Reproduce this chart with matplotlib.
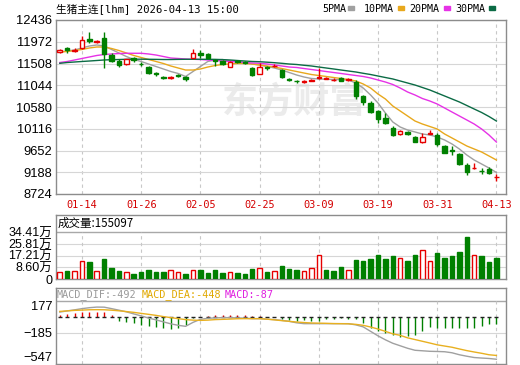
"""
生猪主连 日K + 成交量 + MACD 复刻图
输出: out.png
"""

import matplotlib
matplotlib.use("Agg")
import matplotlib.pyplot as plt
from matplotlib.patches import Rectangle

plt.rcParams["font.family"] = ["Liberation Sans", "Noto Sans CJK SC"]
MONO = ["DejaVu Sans Mono", "Noto Sans CJK SC"]

# ---- data ----
tick_idx = [3, 11, 19, 27, 35, 43, 51, 59]
tick_labels = ["01-14", "01-26", "02-05", "02-25", "03-09", "03-19", "03-31", "04-13"]

open_ = [11760, 11840, 11775, 11832, 12025, 11965, 12045, 11683, 11568, 11491,
         11625, 11505, 11427, 11300, 11215, 11195, 11260, 11226, 11632, 11740,
         11705, 11580, 11561, 11440, 11555, 11535, 11419, 11284, 11425, 11445,
         11369, 11170, 11140, 11110, 11140, 11200, 11185, 11150, 11199, 11160,
         11120, 10820, 10676, 10495, 10340, 10126, 10004, 10055, 9947, 9840,
         10010, 9983, 9748, 9670, 9577, 9343, 9270, 9225, 9250, 9080]
close = [11790, 11790, 11805, 12009, 11980, 11995, 11711, 11568, 11476, 11598,
         11576, 11490, 11299, 11285, 11200, 11210, 11245, 11177, 11726, 11684,
         11632, 11560, 11491, 11547, 11540, 11520, 11269, 11440, 11410, 11465,
         11227, 11155, 11125, 11125, 11155, 11215, 11200, 11165, 11145, 11175,
         10820, 10687, 10480, 10324, 10233, 9983, 10060, 10004, 9840, 9947,
         10025, 9785, 9605, 9650, 9364, 9200, 9285, 9210, 9165, 9095]
high = [11815, 11870, 11835, 12095, 12185, 12020, 12175, 11725, 11605, 11610,
        11655, 11530, 11455, 11335, 11245, 11240, 11290, 11250, 11817, 11796,
        11732, 11600, 11590, 11560, 11580, 11560, 11440, 11512, 11450, 11490,
        11390, 11190, 11165, 11150, 11180, 11412, 11230, 11190, 11215, 11200,
        11156, 10840, 10700, 10510, 10452, 10175, 10085, 10075, 9965, 10032,
        10090, 10025, 9770, 9750, 9600, 9385, 9375, 9280, 9300, 9150]
low = [11740, 11740, 11755, 11815, 11940, 11945, 11420, 11540, 11440, 11480,
       11540, 11465, 11285, 11250, 11170, 11180, 11220, 11135, 11620, 11625,
       11620, 11445, 11470, 11430, 11520, 11500, 11250, 11275, 11380, 11430,
       11199, 11130, 11100, 11090, 11125, 11185, 11170, 11130, 11130, 11145,
       10750, 10620, 10460, 10245, 10215, 9960, 9990, 9990, 9825, 9820,
       9995, 9748, 9590, 9556, 9345, 9130, 9260, 9150, 9150, 9000]

ma5 = [11753, 11775, 11796, 11839, 11881, 11903, 11881, 11807, 11732, 11657,
       11593, 11551, 11497, 11444, 11391, 11337, 11295, 11231, 11337, 11444,
       11551, 11583, 11593, 11561, 11551, 11529, 11497, 11476, 11444, 11412,
       11369, 11316, 11263, 11220, 11188, 11178, 11171, 11167, 11162, 11156,
       11092, 10985, 10836, 10665, 10452, 10260, 10153, 10089, 10047, 10004,
       9983, 9940, 9876, 9791, 9684, 9556, 9449, 9364, 9279, 9183]
ma10 = [11753, 11764, 11785, 11807, 11839, 11860, 11860, 11828, 11785, 11732,
        11679, 11636, 11593, 11551, 11508, 11455, 11412, 11369, 11369, 11391,
        11433, 11465, 11487, 11497, 11508, 11508, 11497, 11476, 11455, 11433,
        11401, 11369, 11337, 11305, 11273, 11252, 11231, 11209, 11188, 11167,
        11135, 11071, 10985, 10857, 10751, 10601, 10495, 10388, 10281, 10217,
        10164, 10111, 10004, 9919, 9834, 9748, 9684, 9620, 9535, 9449]
ma20 = [11529, 11551, 11583, 11615, 11647, 11679, 11700, 11711, 11721, 11726,
        11726, 11726, 11711, 11689, 11657, 11625, 11615, 11604, 11598, 11593,
        11583, 11572, 11561, 11551, 11540, 11529, 11519, 11512, 11497, 11476,
        11455, 11433, 11423, 11401, 11380, 11359, 11337, 11316, 11295, 11273,
        11252, 11231, 11199, 11156, 11113, 11060, 10985, 10900, 10836, 10761,
        10708, 10644, 10559, 10473, 10388, 10303, 10217, 10111, 9983, 9833]
ma30 = [11512, 11529, 11540, 11551, 11561, 11572, 11583, 11589, 11593, 11598,
        11600, 11600, 11598, 11596, 11593, 11593, 11596, 11598, 11598, 11598,
        11598, 11596, 11591, 11583, 11572, 11561, 11551, 11546, 11536, 11525,
        11512, 11497, 11487, 11470, 11455, 11433, 11412, 11391, 11369, 11348,
        11327, 11299, 11273, 11241, 11209, 11178, 11135, 11092, 11049, 10996,
        10943, 10879, 10815, 10751, 10687, 10612, 10537, 10463, 10377, 10281]

volume = [54000, 59000, 59000, 132000, 125000, 59000, 147000, 81000, 59000, 51000,
          39000, 51000, 66000, 51000, 51000, 64000, 51000, 39000, 64000, 69000,
          47000, 66000, 47000, 51000, 47000, 39000, 74000, 83000, 54000, 61000,
          96000, 76000, 66000, 59000, 78000, 174000, 66000, 61000, 88000, 66000,
          140000, 132000, 147000, 176000, 147000, 169000, 152000, 132000, 176000, 213000,
          132000, 193000, 157000, 169000, 201000, 311000, 176000, 169000, 127000, 155097]
vol_up = [1, 0, 1, 1, 0, 1, 0, 0, 0, 1,
          0, 0, 0, 0, 0, 1, 1, 0, 1, 0,
          0, 0, 0, 1, 0, 0, 0, 1, 0, 1,
          0, 0, 0, 1, 1, 1, 0, 0, 0, 1,
          0, 0, 0, 0, 0, 0, 1, 0, 0, 1,
          1, 0, 0, 0, 0, 0, 1, 0, 0, 0]

dif = [54, 68, 80, 94, 105, 112, 111, 94, 76, 57,
       33, 10, -15, -36, -59, -82, -99, -111, -65, -30,
       -18, -13, -10, -10, -13, -16, -22, -22, -28, -33,
       -42, -53, -70, -80, -80, -80, -80, -80, -80, -80,
       -94, -117, -169, -221, -267, -307, -336, -365, -388, -394,
       -400, -402, -405, -417, -440, -457, -472, -478, -483, -492]
dea = [62, 68, 74, 77, 81, 82, 81, 76, 69, 60,
       51, 39, 28, 16, 2, -10, -22, -33, -39, -42,
       -39, -33, -30, -27, -23, -22, -22, -22, -28, -36,
       -45, -53, -61, -67, -72, -74, -76, -79, -80, -82,
       -88, -99, -119, -142, -169, -198, -215, -244, -264, -284,
       -304, -325, -339, -353, -373, -392, -408, -423, -440, -448]
macd = [20, 35, 45, 55, 60, 60, 50, 25, -50, -58,
        -69, -96, -108, -123, -135, -146, -135, -96, -15, 0,
        10, 20, 25, 25, 20, 15, 10, 5, -5, -5,
        -25, -40, -50, -40, -45, -45, -25, -25, -20, -25,
        -30, -75, -125, -160, -185, -215, -230, -222, -212, -165,
        -115, -127, -127, -135, -127, -135, -127, -108, -88, -87]

price_ticks = [8724, 9188, 9652, 10116, 10580, 11044, 11508, 11972, 12436]
vol_ticks = [0, 86025, 172050, 258075, 344100]
vol_tick_labels = ["0", "8.60万", "17.21万", "25.81万", "34.41万"]
macd_ticks = [177, -185, -547]

UP = "#e60000"
DOWN = "#008000"
C5, C10, C20, C30 = "#a0a0a0", "#e8a81c", "#e632e6", "#0b6b45"
GRID = "#d6d6d6"
FRAME = "#8c8c8c"

W, H = 520, 365


def box(l, t, r, b):
    return [l / W, 1 - b / H, (r - l) / W, (b - t) / H]


fig = plt.figure(figsize=(W / 100, H / 100), dpi=100)
ax = fig.add_axes(box(55.5, 20, 505.5, 194))
axv = fig.add_axes(box(55.5, 215, 505.5, 279))
axm = fig.add_axes(box(55.5, 288, 505.5, 364))

n = len(close)
xs = list(range(n))
xlim = (-0.58, 60.23)
bw = 0.62

for a in (ax, axv, axm):
    a.set_xlim(*xlim)
    for s in a.spines.values():
        s.set_color(FRAME)
        s.set_linewidth(1)
    a.tick_params(length=0)

# ---- price panel ----
ax.set_ylim(price_ticks[0], price_ticks[-1])
ax.set_yticks(price_ticks)
ax.tick_params(axis="y", labelsize=9.3, pad=2.5)
ax.set_xticks(tick_idx)
ax.set_xticklabels(tick_labels, color="#d40000", fontsize=7.4, family=MONO)
ax.tick_params(axis="x", pad=4.5)
ax.yaxis.grid(True, color=GRID, lw=0.8)
ax.xaxis.grid(True, color="#c8c8c8", lw=0.8, ls=(0, (3, 3)))
ax.set_axisbelow(True)

ax.text(0.53, 0.53, "东方财富", transform=ax.transAxes, fontsize=26,
        fontweight="bold", family=["Noto Sans CJK SC"], color="#ebebeb",
        ha="center", va="center", zorder=0)

for i in xs:
    o, c, h, l = open_[i], close[i], high[i], low[i]
    up = c >= o
    col = UP if up else DOWN
    top, bot = max(o, c), min(o, c)
    ax.vlines(i, top, h, color=col, lw=1, zorder=3)
    ax.vlines(i, l, bot, color=col, lw=1, zorder=3)
    ax.add_patch(Rectangle((i - bw / 2, bot), bw, max(top - bot, 4),
                           facecolor="white" if up else col, edgecolor=col,
                           lw=1, zorder=4))

ax.plot(xs, ma5, color=C5, lw=1, zorder=2)
ax.plot(xs, ma10, color=C10, lw=1, zorder=2)
ax.plot(xs, ma20, color=C20, lw=1, zorder=2)
ax.plot(xs, ma30, color=C30, lw=1, zorder=2)

fig.text(56 / W, 1 - 8.5 / H, "生猪主连[lhm] 2026-04-13 15:00", fontsize=7.7,
         family=MONO, va="center", ha="left")
legend_items = [("5PMA", C5, 322, 348), ("10PMA", C10, 364, 398),
                ("20PMA", C20, 409, 444), ("30PMA", C30, 455, 489)]
for name, col, tx, sx in legend_items:
    fig.text(tx / W, 1 - 8.5 / H, name, fontsize=7.2, family=MONO,
             va="center", ha="left")
    fig.add_artist(Rectangle((sx / W, 1 - 10 / H), 6 / W, 3.5 / H,
                             transform=fig.transFigure, color=col))

# ---- volume panel ----
axv.set_ylim(0, 471600)
axv.set_yticks(vol_ticks)
axv.set_yticklabels(vol_tick_labels)
axv.tick_params(axis="y", labelsize=9, pad=2.5)
axv.set_xticks([])
for v in vol_ticks[1:-1]:
    axv.axhline(v, color=GRID, lw=0.8, zorder=0)
axv.axhline(vol_ticks[-1], color="#a8a8a8", lw=1, zorder=0)
axv.vlines(tick_idx, 0, vol_ticks[-1], color="#c8c8c8", lw=0.8,
           ls=(0, (3, 3)), zorder=0)
for i in xs:
    col = UP if vol_up[i] else DOWN
    axv.add_patch(Rectangle((i - bw / 2, 0), bw, volume[i],
                            facecolor="white" if vol_up[i] else col,
                            edgecolor=col, lw=1, zorder=3))
axv.text(2.5 / 450, 0.87, "成交量:155097", transform=axv.transAxes,
         fontsize=8.3, family=["Noto Sans CJK SC"], va="center", ha="left")

# ---- MACD panel ----
axm.set_ylim(-547, 333)
axm.set_yticks(macd_ticks)
axm.tick_params(axis="y", labelsize=9.3, pad=2.5)
labs = axm.get_yticklabels()
labs[0].set_va("top")
labs[2].set_va("bottom")
axm.set_xticks([])
axm.axhline(177, color="#a8a8a8", lw=1, zorder=0)
axm.axhline(-185, color=GRID, lw=0.8, zorder=0)
axm.vlines(tick_idx, -547, 177, color="#c8c8c8", lw=0.8,
           ls=(0, (3, 3)), zorder=0)
for i in xs:
    col = UP if macd[i] >= 0 else DOWN
    axm.vlines(i, 0, macd[i], color=col, lw=1, zorder=3)
    axm.hlines(0, i - 0.28, i + 0.28, color="#222222", lw=1, zorder=3)
axm.plot(xs, dif, color="#a0a0a0", lw=1, zorder=4)
axm.plot(xs, dea, color="#e8b020", lw=1, zorder=4)

hy = 1 - 6.5 / 76
axm.text(1.5 / 450, hy, "MACD_DIF:-492", transform=axm.transAxes, fontsize=7.3,
         family=MONO, color="#999999", va="center", ha="left")
axm.text(86 / 450, hy, "MACD_DEA:-448", transform=axm.transAxes, fontsize=7.3,
         family=MONO, color="#e0a800", va="center", ha="left")
axm.text(169 / 450, hy, "MACD:-87", transform=axm.transAxes, fontsize=7.3,
         family=MONO, color="#e020e0", va="center", ha="left")

fig.savefig("out.png", dpi=100)
plt.close(fig)
